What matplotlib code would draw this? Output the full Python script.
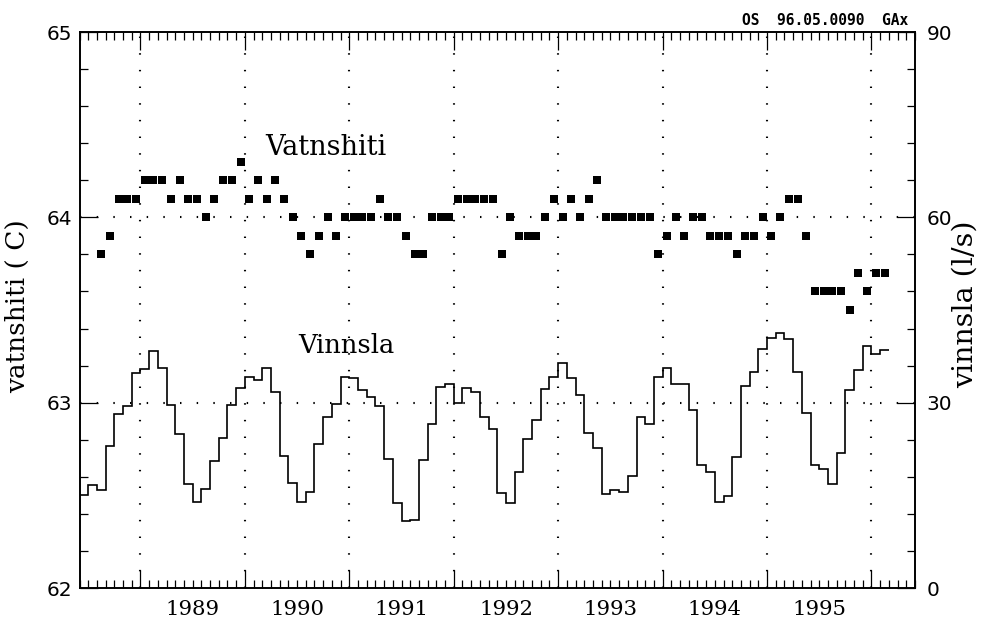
import numpy as np
import matplotlib
matplotlib.use("Agg")
import matplotlib.pyplot as plt
from matplotlib.ticker import FixedLocator, MultipleLocator
from matplotlib.transforms import blended_transform_factory

# monthly series, first month is June 1988
start = 1988 + 5 / 12

# vinnsla (l/s), months 0..92
vinnsla = [15.1, 16.6, 15.9, 23.0, 28.2, 29.5, 34.8, 35.4, 38.3, 35.6,
           29.6, 24.9, 16.8, 14.0, 16.0, 20.6, 24.3, 29.6, 32.4, 34.2,
           33.6, 35.6, 31.8, 21.3, 17.0, 14.0, 15.6, 23.3, 27.7, 29.8,
           34.2, 34.0, 32.0, 30.9, 29.5, 20.9, 13.8, 10.8, 11.0, 20.7,
           26.6, 32.5, 33.0, 30.0, 32.4, 31.8, 27.6, 25.8, 15.3, 13.7,
           18.8, 24.1, 27.2, 32.2, 34.2, 36.4, 34.0, 31.2, 25.1, 22.7,
           15.2, 15.8, 15.6, 18.1, 27.7, 26.5, 34.2, 35.6, 33.0, 33.1,
           28.8, 19.9, 18.8, 14.0, 14.9, 21.2, 32.7, 35.0, 38.7, 40.4,
           41.3, 40.3, 35.0, 28.3, 19.9, 19.2, 16.9, 21.9, 32.0, 35.3,
           39.2, 37.8, 38.6]

# vatnshiti (C), months 2..92
vatn_first = 2
vatnshiti = [63.8, 63.9, 64.1, 64.1, 64.1, 64.2, 64.2, 64.2, 64.1, 64.2,
             64.1, 64.1, 64.0, 64.1, 64.2, 64.2, 64.3, 64.1, 64.2, 64.1,
             64.2, 64.1, 64.0, 63.9, 63.8, 63.9, 64.0, 63.9, 64.0, 64.0,
             64.0, 64.0, 64.1, 64.0, 64.0, 63.9, 63.8, 63.8, 64.0, 64.0,
             64.0, 64.1, 64.1, 64.1, 64.1, 64.1, 63.8, 64.0, 63.9, 63.9,
             63.9, 64.0, 64.1, 64.0, 64.1, 64.0, 64.1, 64.2, 64.0, 64.0,
             64.0, 64.0, 64.0, 64.0, 63.8, 63.9, 64.0, 63.9, 64.0, 64.0,
             63.9, 63.9, 63.9, 63.8, 63.9, 63.9, 64.0, 63.9, 64.0, 64.1,
             64.1, 63.9, 63.6, 63.6, 63.6, 63.6, 63.5, 63.7, 63.6, 63.7,
             63.7]

years = list(range(1989, 1996))
year_lines = list(range(1989, 1997))

plt.rcParams['font.family'] = 'DejaVu Sans'
serif = 'DejaVu Serif'

fig = plt.figure(figsize=(9.92, 6.18), dpi=100)
ax = fig.add_axes([79.5 / 992, 30 / 618, 835.5 / 992, 556 / 618])
ax2 = ax.twinx()

edges = start + np.arange(len(vinnsla) + 1) / 12
ax2.stairs(vinnsla, edges, baseline=None, color='black', lw=1.2, zorder=3)

mx = start + (np.arange(len(vatnshiti)) + vatn_first + 0.5) / 12
ax.plot(mx, vatnshiti, 's', color='black', ms=6.3, mew=0, zorder=3)

# dotted reference grid
dots = (0, (0.7, 7.3))
for yr in year_lines:
    ax.axvline(yr, color='black', lw=1.5, ls=dots, zorder=1)
for lev in (63, 64):
    ax.axhline(lev, color='black', lw=1.5, ls=dots, zorder=1)

ax.set_xlim(start, start + 8)
ax.set_ylim(62, 65)
ax2.set_ylim(0, 90)

ax.xaxis.set_major_locator(FixedLocator(year_lines))
ax.xaxis.set_minor_locator(FixedLocator(start + np.arange(97) / 12))
ax.tick_params(axis='x', which='both', direction='in', top=True, bottom=True,
               labelbottom=False, width=0.9)
ax.tick_params(axis='x', which='major', length=13)
ax.tick_params(axis='x', which='minor', length=6)

ax.yaxis.set_major_locator(FixedLocator([62, 63, 64, 65]))
ax.yaxis.set_minor_locator(MultipleLocator(0.2))
ax.tick_params(axis='y', which='both', direction='in', right=False, width=0.9,
               labelsize=14.5, pad=5)
ax.tick_params(axis='y', which='major', length=13)
ax.tick_params(axis='y', which='minor', length=6)

ax2.yaxis.set_major_locator(FixedLocator([0, 30, 60, 90]))
ax2.yaxis.set_minor_locator(MultipleLocator(6))
ax2.tick_params(axis='y', which='both', direction='in', width=0.9,
                labelsize=14.5, pad=8.5)
ax2.tick_params(axis='y', which='major', length=13)
ax2.tick_params(axis='y', which='minor', length=6)

for a in (ax, ax2):
    for sp in a.spines.values():
        sp.set_linewidth(1.2)

# year labels centred in each year
trans = blended_transform_factory(ax.transData, ax.transAxes)
for yr in years:
    ax.text(yr + 0.5, -0.021, str(yr), transform=trans, ha='center', va='top',
            family=serif, fontsize=15.3)

ax.text(1990.778, 64.336, 'Vatnshiti', family=serif, fontsize=19.5,
        ha='center', va='baseline')
ax.text(1990.974, 63.268, 'Vinnsla', family=serif, fontsize=18.5,
        ha='center', va='baseline')

fig.text(18 / 992, 1 - 306 / 618, 'vatnshiti ( C)', rotation=90, family=serif,
         fontsize=19, ha='center', va='center')
fig.text(965 / 992, 1 - 304 / 618, 'vinnsla (l/s)', rotation=90, family=serif,
         fontsize=20.5, ha='center', va='center')

fig.text(908 / 992, 1 - 25 / 618, 'OS  96.05.0090  GAx', family='DejaVu Sans Mono',
         fontsize=10.5, fontweight='bold', ha='right', va='baseline')

fig.savefig('out.png', dpi=100)
